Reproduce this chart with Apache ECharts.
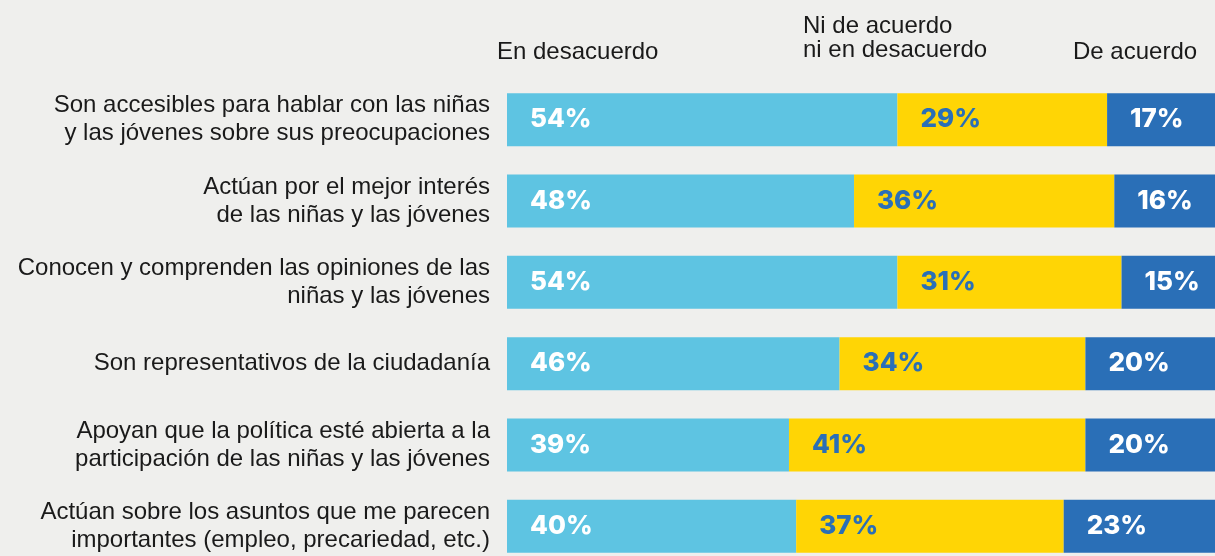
<!DOCTYPE html>
<html>
<head>
<meta charset="utf-8">
<script src="https://cdn.jsdelivr.net/npm/echarts@6/dist/echarts.min.js"></script>
<style>
  html, body { margin: 0; padding: 0; background: #efefed; }
  #chart { width: 1215px; height: 556px; }
</style>
</head>
<body>
<div id="chart"></div>
<script>
const categories = [
  'Son accesibles para hablar con las niñas\ny las jóvenes sobre sus preocupaciones',
  'Actúan por el mejor interés\nde las niñas y las jóvenes',
  'Conocen y comprenden las opiniones de las\nniñas y las jóvenes',
  'Son representativos de la ciudadanía',
  'Apoyan que la política esté abierta a la\nparticipación de las niñas y las jóvenes',
  'Actúan sobre los asuntos que me parecen\nimportantes (empleo, precariedad, etc.)',
]
const disagree = [54, 48, 54, 46, 39, 40]
const neutral = [29, 36, 31, 34, 41, 37]
const agree = [17, 16, 15, 20, 20, 23]

const headers = ['En desacuerdo', 'Ni de acuerdo\nni en desacuerdo', 'De acuerdo']

const chart = echarts.init(document.getElementById('chart'))

const barLabel = (color) => ({
  show: true,
  position: 'insideLeft',
  distance: 23,
  formatter: '{c}%',
  color,
  fontFamily: 'Inter',
  fontWeight: 800,
  fontSize: 26,
})

const headerText = (text, x, y) => ({
  type: 'text',
  left: x,
  top: y,
  style: {
    text,
    fill: '#1a1a1a',
    font: '24px "Liberation Sans", Arial, sans-serif',
    lineHeight: 24,
  },
})

const option = {
  backgroundColor: '#efefed',
  animation: false,
  grid: {
    left: 507,
    right: -15,
    top: 79,
    bottom: -11,
    outerBoundsMode: 'none',
  },
  xAxis: {
    type: 'value',
    min: 0,
    max: 100,
    show: false,
  },
  yAxis: {
    type: 'category',
    data: categories,
    inverse: true,
    axisLine: { show: false },
    axisTick: { show: false },
    axisLabel: {
      margin: 17,
      color: '#1a1a1a',
      fontFamily: 'Liberation Sans',
      fontSize: 24,
      lineHeight: 28,
      align: 'right',
    },
  },
  graphic: [
    headerText(headers[0], 497, 40),
    headerText(headers[1], 803, 14),
    headerText(headers[2], 1073, 40),
  ],
  series: [
    {
      type: 'bar',
      stack: 'total',
      data: disagree,
      barWidth: 53,
      itemStyle: { color: '#5ec4e2' },
      label: barLabel('#ffffff'),
    },
    {
      type: 'bar',
      stack: 'total',
      data: neutral,
      barWidth: 53,
      itemStyle: { color: '#ffd505' },
      label: barLabel('#2a6fb7'),
    },
    {
      type: 'bar',
      stack: 'total',
      data: agree,
      barWidth: 53,
      itemStyle: { color: '#2a6fb7' },
      label: barLabel('#ffffff'),
    },
  ],
}

chart.setOption(option)
</script>
</body>
</html>
